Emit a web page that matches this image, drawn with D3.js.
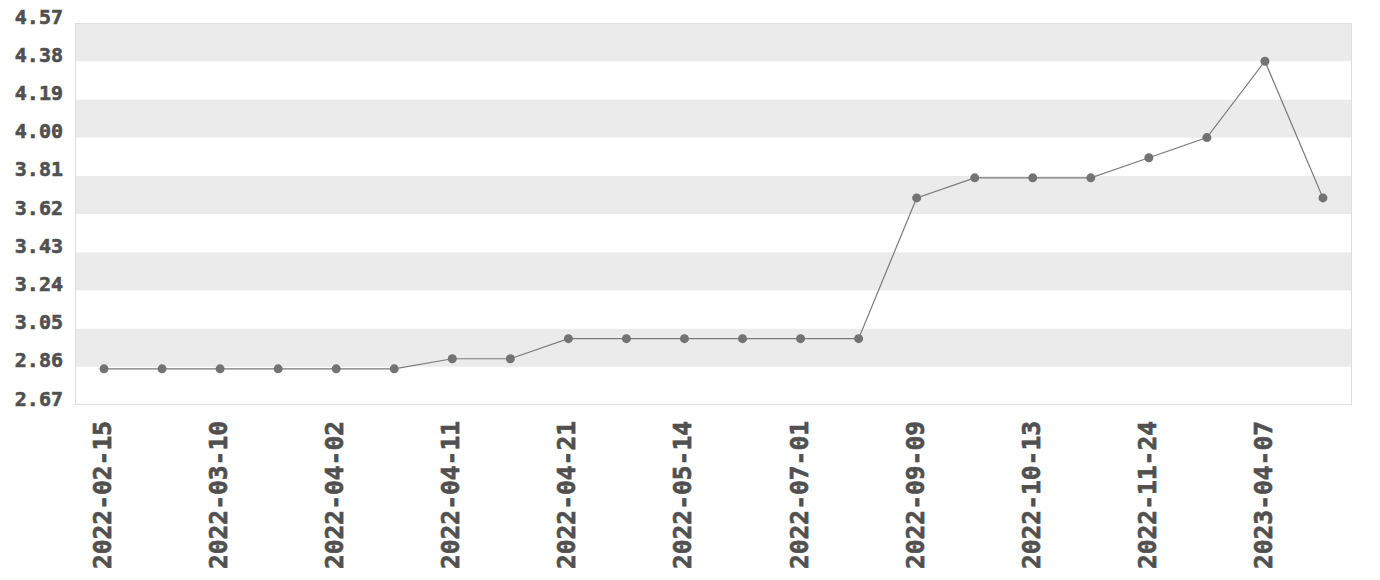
<!DOCTYPE html>
<html>
<head>
<meta charset="utf-8">
<script src="https://cdn.jsdelivr.net/npm/d3@7"></script>
<style>
  html, body { margin: 0; padding: 0; background: #fff; }
  svg { display: block; }
  text { font-family: "DejaVu Sans Mono", monospace; font-weight: bold; fill: #505050; }
</style>
</head>
<body>
<svg id="chart" width="1380" height="580"></svg>
<script>
// Categories (dates); every other one is labelled on the axis
const categories = [
  "2022-02-15", "2022-02-28", "2022-03-10", "2022-03-21", "2022-04-02", "2022-04-07",
  "2022-04-11", "2022-04-15", "2022-04-21", "2022-05-05", "2022-05-14", "2022-06-01",
  "2022-07-01", "2022-08-01", "2022-09-09", "2022-09-28", "2022-10-13", "2022-11-01",
  "2022-11-24", "2023-01-15", "2023-04-07", "2023-05-01"
];
const values = [
  2.85, 2.85, 2.85, 2.85, 2.85, 2.85,
  2.90, 2.90, 3.00, 3.00, 3.00, 3.00,
  3.00, 3.00, 3.70, 3.80, 3.80, 3.80,
  3.90, 4.00, 4.38, 3.70
];
const yTicks = [2.67, 2.86, 3.05, 3.24, 3.43, 3.62, 3.81, 4.00, 4.19, 4.38, 4.57];

const svg = d3.select("#chart");
const margin = { left: 75, top: 23, right: 28, bottom: 175 };
const W = 1380, H = 580;
const iw = W - margin.left - margin.right;
const ih = H - margin.top - margin.bottom;

const x = d3.scaleBand().domain(categories).range([margin.left, margin.left + iw]).padding(0);
const y = d3.scaleLinear().domain([yTicks[0], yTicks[yTicks.length - 1]]).range([margin.top + ih, margin.top]);

// alternating bands
const bands = d3.range(yTicks.length - 1);
svg.append("g").selectAll("rect").data(bands).join("rect")
  .attr("x", margin.left)
  .attr("width", iw)
  .attr("y", i => y(yTicks[i + 1]))
  .attr("height", i => y(yTicks[i]) - y(yTicks[i + 1]))
  .attr("fill", i => ((yTicks.length - 2 - i) % 2 === 0) ? "#ebebeb" : "#ffffff");

// border
svg.append("rect")
  .attr("x", margin.left + 0.5).attr("y", margin.top + 0.5)
  .attr("width", iw - 1).attr("height", ih - 1)
  .attr("fill", "none").attr("stroke", "#dedede").attr("stroke-width", 1);

// y axis labels
const yAxis = d3.axisLeft(y).tickValues(yTicks).tickFormat(d3.format(".2f")).tickSize(0).tickPadding(12);
const gy = svg.append("g").attr("transform", `translate(${margin.left},0)`).call(yAxis);
gy.select(".domain").remove();
gy.selectAll("text").attr("dy", "0").style("font-size", "20px")
  .style("font-family", "'DejaVu Sans Mono', monospace").style("font-weight", "bold")
  .attr("fill", "#505050").attr("stroke", "#505050").attr("stroke-width", 0.6);

// x axis labels (every other category)
const xAxis = d3.axisBottom(x)
  .tickValues(categories.filter((d, i) => i % 2 === 0))
  .tickSize(0);
const gx = svg.append("g").attr("transform", `translate(0,${margin.top + ih})`).call(xAxis);
gx.select(".domain").remove();
gx.selectAll("text")
  .attr("transform", "translate(7,16) rotate(-90)")
  .attr("x", 0).attr("y", 0).attr("dy", "0")
  .attr("text-anchor", "end")
  .style("font-size", "24.6px")
  .style("font-family", "'DejaVu Sans Mono', monospace").style("font-weight", "bold")
  .attr("fill", "#505050").attr("stroke", "#505050").attr("stroke-width", 0.7);

// line
const line = d3.line()
  .x((d, i) => x(categories[i]) + x.bandwidth() / 2)
  .y(d => y(d));
svg.append("path").datum(values)
  .attr("d", line)
  .attr("fill", "none").attr("stroke", "#7a7a7a").attr("stroke-width", 1.2);

// points
svg.append("g").selectAll("circle").data(values).join("circle")
  .attr("cx", (d, i) => x(categories[i]) + x.bandwidth() / 2)
  .attr("cy", d => y(d))
  .attr("r", 4.5)
  .attr("fill", "#737373");
</script>
</body>
</html>
